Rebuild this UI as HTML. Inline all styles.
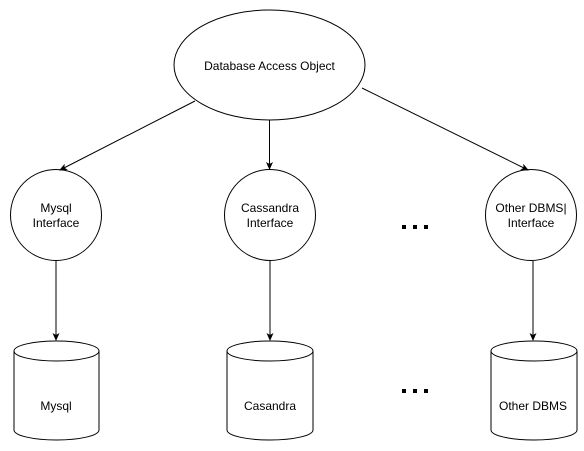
<!DOCTYPE html>
<html><head><style>body{margin:0;background:#fff}svg{display:block}</style></head>
<body>
<svg width="584" height="451" viewBox="0 0 584 451" xmlns="http://www.w3.org/2000/svg" font-family="Liberation Sans, Arial, sans-serif" font-size="12" fill="none" stroke="#000">
<defs><marker id="a" markerWidth="8" markerHeight="8" refX="7" refY="4" orient="auto" markerUnits="userSpaceOnUse"><path d="M0,0.5 L8,4 L0,7.5 L2,4 Z" fill="#000" stroke="none"/></marker></defs>
<ellipse cx="269.5" cy="65" rx="95.5" ry="55" fill="#fff"/>
<circle cx="56" cy="215" r="45.5" fill="#fff"/>
<circle cx="270" cy="215" r="45.5" fill="#fff"/>
<circle cx="531" cy="215" r="45.5" fill="#fff"/>
<line x1="195" y1="101" x2="60" y2="170" marker-end="url(#a)"/>
<line x1="269.5" y1="120" x2="269.5" y2="169" marker-end="url(#a)"/>
<line x1="362" y1="88" x2="528" y2="170" marker-end="url(#a)"/>
<line x1="56" y1="261" x2="56" y2="340" marker-end="url(#a)"/>
<line x1="270" y1="261" x2="270" y2="340" marker-end="url(#a)"/>
<line x1="533" y1="261" x2="533" y2="340" marker-end="url(#a)"/>
<g fill="#fff">
<path d="M14,351 A42.5,10 0 0 1 99,351 V430 A42.5,10 0 0 1 14,430 Z"/><path d="M14,351 A42.5,10 0 0 0 99,351"/>
<path d="M227,351 A43,10 0 0 1 313,351 V430 A43,10 0 0 1 227,430 Z"/><path d="M227,351 A43,10 0 0 0 313,351"/>
<path d="M491,351 A43,10 0 0 1 577,351 V430 A43,10 0 0 1 491,430 Z"/><path d="M491,351 A43,10 0 0 0 577,351"/>
</g>
<g fill="#000" stroke="none" text-anchor="middle">
<text x="269.5" y="70">Database Access Object</text>
<text x="56" y="212">Mysql</text><text x="56" y="227">Interface</text>
<text x="270" y="212">Cassandra</text><text x="270" y="227">Interface</text>
<text x="531" y="212">Other DBMS|</text><text x="531" y="227">Interface</text>
<text x="56" y="410">Mysql</text>
<text x="270" y="410">Casandra</text>
<text x="533" y="410">Other DBMS</text>
<rect x="402" y="225" width="4" height="4"/><rect x="413" y="225" width="4" height="4"/><rect x="424" y="225" width="4" height="4"/>
<rect x="402" y="389" width="4" height="4"/><rect x="413" y="389" width="4" height="4"/><rect x="424" y="389" width="4" height="4"/>
</g>
</svg>
</body></html>
